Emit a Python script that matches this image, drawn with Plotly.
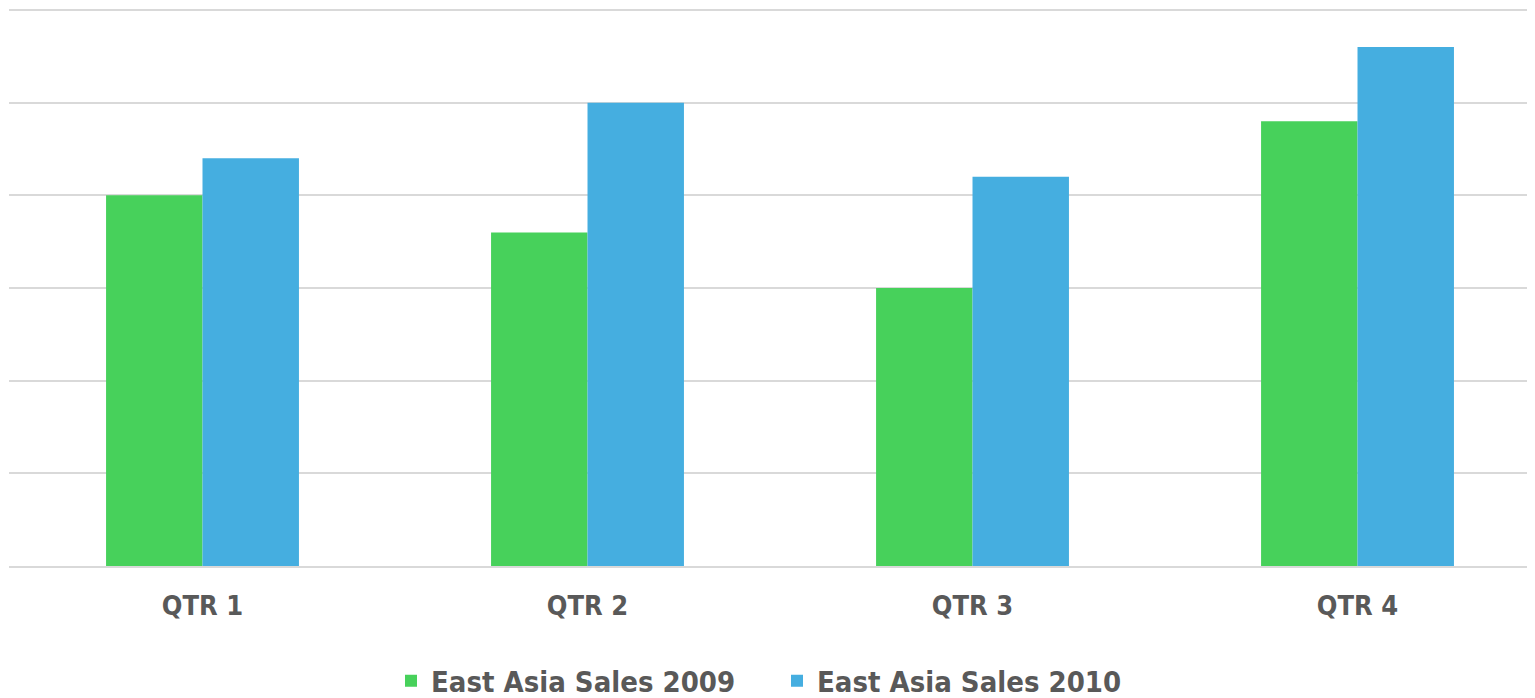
import plotly.graph_objects as go

categories = ["QTR 1", "QTR 2", "QTR 3", "QTR 4"]
sales_2009 = [4.0, 3.6, 3.0, 4.8]
sales_2010 = [4.4, 5.0, 4.2, 5.6]
series_names = ["East Asia Sales 2009", "East Asia Sales 2010"]
colors = ["#47D15B", "#45AEE0"]

fig = go.Figure()
fig.add_trace(go.Bar(x=categories, y=sales_2009, name=series_names[0], marker=dict(color=colors[0], line=dict(width=0))))
fig.add_trace(go.Bar(x=categories, y=sales_2010, name=series_names[1], marker=dict(color=colors[1], line=dict(width=0))))

# page body has an 8px margin, so the figure is sized/offset to compensate
W, H = 1527, 690
font_family = "DejaVu Sans Condensed, Liberation Sans Narrow, Roboto, sans-serif"
fig.update_layout(
    width=W, height=H,
    margin=dict(l=1, r=0, t=0, b=132, autoexpand=False),
    plot_bgcolor="white", paper_bgcolor="white",
    barmode="group", bargap=0.499, bargroupgap=0,
    font=dict(family=font_family, color="#595959"),
    showlegend=True,
    legend=dict(orientation="h", x=383 / W, xanchor="left", xref="container",
                y=1 - 673 / H, yanchor="middle", yref="container",
                font=dict(size=29, family=font_family, color="#595959", weight="bold"),
                entrywidth=341, entrywidthmode="pixels", tracegroupgap=0),
    xaxis=dict(showgrid=False, showline=True, linecolor="#D9D9D9", linewidth=2,
               range=[-0.5026, 3.461],
               tickfont=dict(size=27, family=font_family, color="#595959", weight="bold"),
               ticks="", ticklabelstandoff=15),
    yaxis=dict(range=[0, 6.0216], dtick=1, showticklabels=False, showgrid=True,
               gridcolor="#D9D9D9", gridwidth=2, zeroline=False, showline=False),
)
fig.write_html("out.html")
